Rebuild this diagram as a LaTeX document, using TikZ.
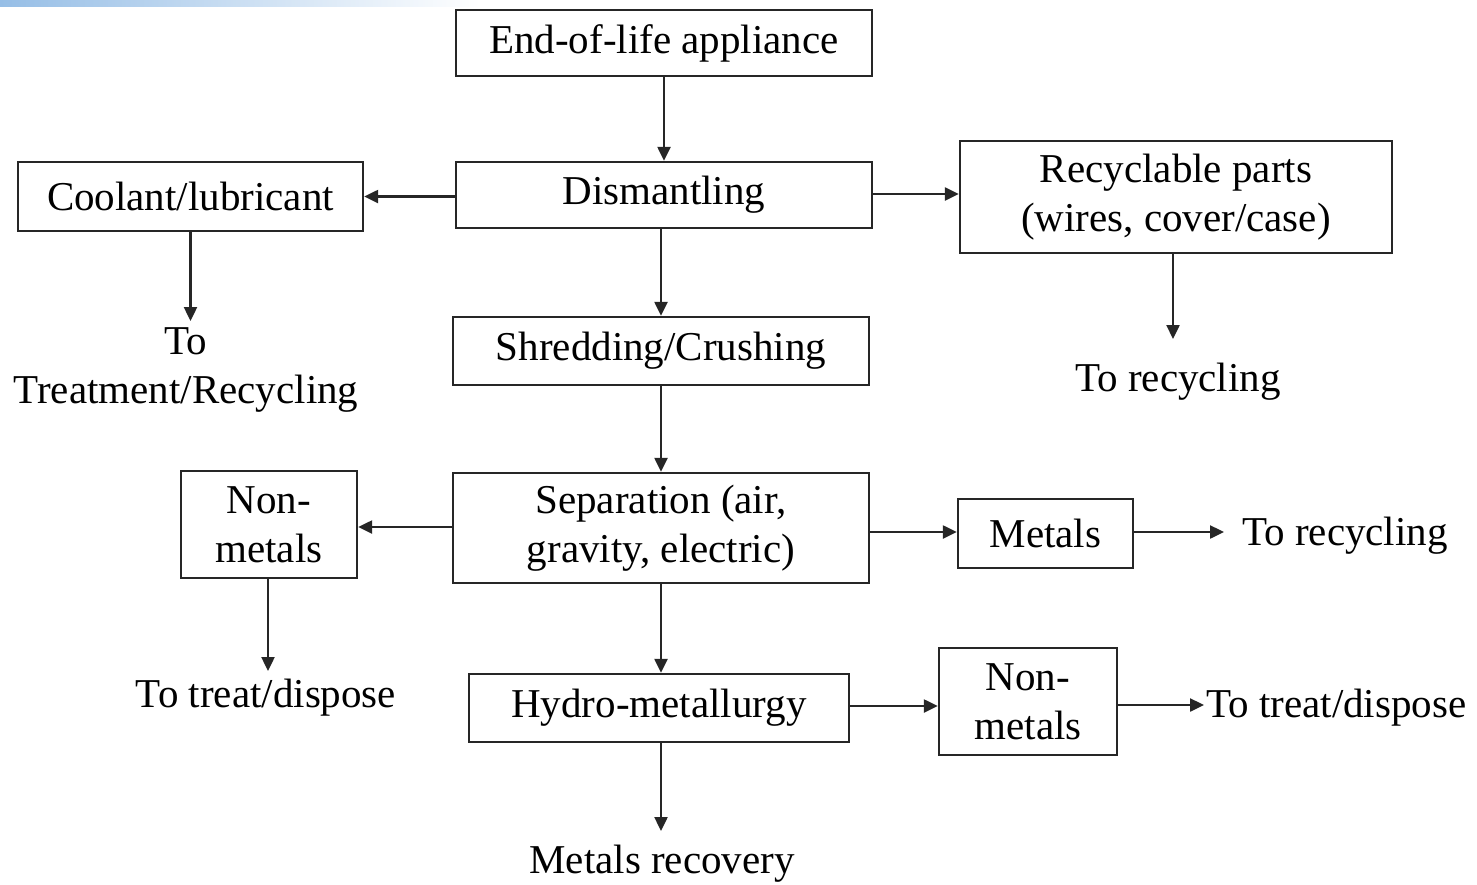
\documentclass[tikz,border=0pt]{standalone}
\usepackage{fontspec}
\setmainfont{Liberation Serif}
\usetikzlibrary{arrows.meta}
\begin{document}
\begin{tikzpicture}[x=1pt,y=-1pt,
  every node/.style={font=\fontsize{41}{49}\selectfont, align=center},
  box/.style={draw=black!85, line width=2.4pt, inner sep=0pt},
  lbl/.style={inner sep=2pt},
  arr/.style={draw=black!85, line width=2.4pt, -{Triangle[length=14pt,width=13pt]}}]
\useasboundingbox (0,0) rectangle (1477,884);
% header band
\shade[left color={rgb,255:red,150;green,190;blue,230}, right color=white] (0,0) rectangle (480,6);

% process boxes
\node[box, minimum width=416pt, minimum height=66pt] (eol) at (664,43) {End-of-life appliance};
\node[box, minimum width=416pt, minimum height=66pt] (dis) at (664,195) {Dismantling};
\node[box, minimum width=345pt, minimum height=69pt] (cool) at (190.5,196.5) {Coolant/lubricant};
\node[box, minimum width=432pt, minimum height=112pt] (rec) at (1176,197) {Recyclable parts\\(wires, cover/case)};
\node[box, minimum width=416pt, minimum height=68pt] (shr) at (661,351) {Shredding/Crushing};
\node[box, minimum width=416pt, minimum height=110pt] (sep) at (661,528) {Separation (air,\\gravity, electric)};
\node[box, minimum width=176pt, minimum height=107pt] (nml) at (269,524.5) {Non-\\metals};
\node[box, minimum width=175pt, minimum height=69pt] (met) at (1045.5,533.5) {Metals};
\node[box, minimum width=380pt, minimum height=68pt] (hyd) at (659,708) {Hydro-metallurgy};
\node[box, minimum width=178pt, minimum height=107pt] (nmr) at (1028,701.5) {Non-\\metals};

% destinations
\node[lbl] (treat1) at (186,370) {To\\Treatment/Recycling};
\node[lbl] (recy1) at (1178,382) {To recycling};
\node[lbl, anchor=west] (recy2) at (1240,536) {To recycling};
\node[lbl] (disp1) at (266,698) {To treat/dispose};
\node[lbl, anchor=west] (disp2) at (1204,708) {To treat/dispose};
\node[lbl] (mrec) at (662,864) {Metals recovery};

% flows
\draw[arr] (eol.south) -- (dis.north);
\draw[arr] (dis.west |- cool.east) -- (cool.east);
\draw[arr] (dis.east |- 0,194) -- (rec.west |- 0,194);
\draw[arr] (cool.south) -- (cool.south |- 0,321);
\draw[arr] (rec.south -| 1173,0) -- (1173,339);
\draw[arr] (dis.south -| shr.north) -- (shr.north);
\draw[arr] (shr.south) -- (sep.north);
\draw[arr] (sep.west |- 0,527) -- (nml.east |- 0,527);
\draw[arr] (sep.east |- 0,532) -- (met.west |- 0,532);
\draw[arr] (met.east |- 0,532) -- (1224,532);
\draw[arr] (nml.south -| 268,0) -- (268,671);
\draw[arr] (sep.south) -- (sep.south |- hyd.north);
\draw[arr] (hyd.east |- 0,706) -- (nmr.west |- 0,706);
\draw[arr] (nmr.east |- 0,705) -- (disp2.west |- 0,705);
\draw[arr] (hyd.south -| 661,0) -- (661,831);
\end{tikzpicture}
\end{document}
